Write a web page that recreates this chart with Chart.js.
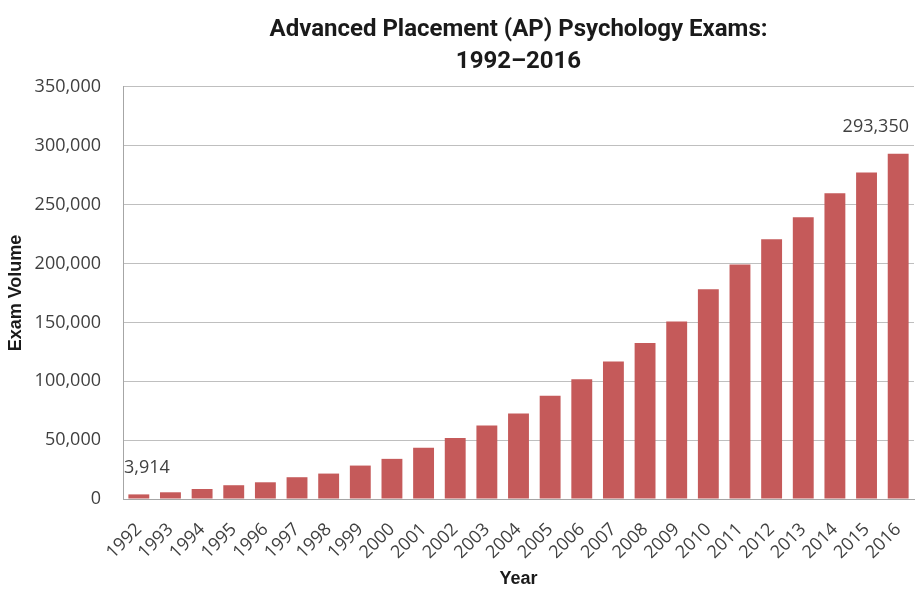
<!DOCTYPE html>
<html><head><meta charset="utf-8">
<script src="https://cdn.jsdelivr.net/npm/chart.js@4"></script>
<style>html,body{margin:0;padding:0;background:#fff}#wrap{width:915px;height:593px}</style>
</head><body><div id="wrap"><canvas id="c" width="915" height="593"></canvas></div>
<script>
const years = ["1992","1993","1994","1995","1996","1997","1998","1999","2000","2001","2002","2003","2004","2005","2006","2007","2008","2009","2010","2011","2012","2013","2014","2015","2016"];
const exams = [3914,5700,8500,11700,14200,18500,21600,28400,34100,43500,51800,62500,72700,87800,101700,116700,132600,150700,178100,199100,220600,239300,259700,277300,293350];
const labelIndexes = [0, 24];
const yTicks = [0,50000,100000,150000,200000,250000,300000,350000];

const labelPlugin = {
  id: 'endLabels',
  afterDatasetsDraw(chart) {
    const ctx = chart.ctx;
    const meta = chart.getDatasetMeta(0);
    ctx.save();
    ctx.font = '18px "Open Sans"';
    ctx.fillStyle = '#404040';
    ctx.textBaseline = 'middle';
    labelIndexes.forEach(i => {
      const el = meta.data[i];
      const txt = exams[i].toLocaleString('en-US');
      const w = ctx.measureText(txt).width;
      let x = el.x - w / 2;
      x = Math.max(chart.chartArea.left + 1, Math.min(x, chart.chartArea.right - w - 5));
      ctx.textAlign = 'left';
      ctx.fillText(txt, x, el.y - 27);
    });
    ctx.restore();
  }
};

new Chart(document.getElementById('c'), {
  type: 'bar',
  data: { labels: years, datasets: [{ data: exams, backgroundColor: '#c55a5a', barPercentage: 0.66, categoryPercentage: 1.0 }] },
  options: {
    responsive: false, animation: false,
    layout: { padding: { top: 0, right: 1, left: 0, bottom: 0 } },
    plugins: {
      legend: { display: false }, tooltip: { enabled: false },
      title: { display: true, fullSize: false, text: ['Advanced Placement (AP) Psychology Exams:', '1992\u20132016'],
        font: { family: 'Roboto, sans-serif', size: 24, weight: 'bold', lineHeight: 1.333 }, color: '#1a1a1a',
        padding: { top: 14, bottom: 9 } }
    },
    scales: {
      x: {
        grid: { display: false, drawTicks: false },
        border: { color: '#a6a6a6' },
        ticks: { color: '#404040', font: { family: '"Open Sans"', size: 18 }, minRotation: 45, maxRotation: 45, padding: 20, autoSkip: false },
        title: { display: true, text: 'Year', color: '#1a1a1a', font: { family: '"Liberation Sans", Arial', size: 18, weight: 'bold' }, padding: { top: 0, bottom: 3 } },
        afterFit(s) { s.height = 94; s.paddingLeft = 0; s.paddingRight = 0; }
      },
      y: {
        min: 0, max: 350000,
        afterBuildTicks(s) { s.ticks = yTicks.map(v => ({ value: v })); },
        grid: { color: '#bfbfbf', drawTicks: false },
        border: { color: '#a6a6a6' },
        ticks: { color: '#404040', font: { family: '"Open Sans"', size: 18 }, padding: 22, callback: v => v.toLocaleString('en-US') },
        title: { display: true, text: 'Exam Volume', color: '#1a1a1a', font: { family: '"Liberation Sans", Arial', size: 18, weight: 'bold' }, padding: { top: 5, bottom: 0 } },
        afterFit(s) { s.width = 123; }
      }
    }
  },
  plugins: [labelPlugin]
});
</script></body></html>
